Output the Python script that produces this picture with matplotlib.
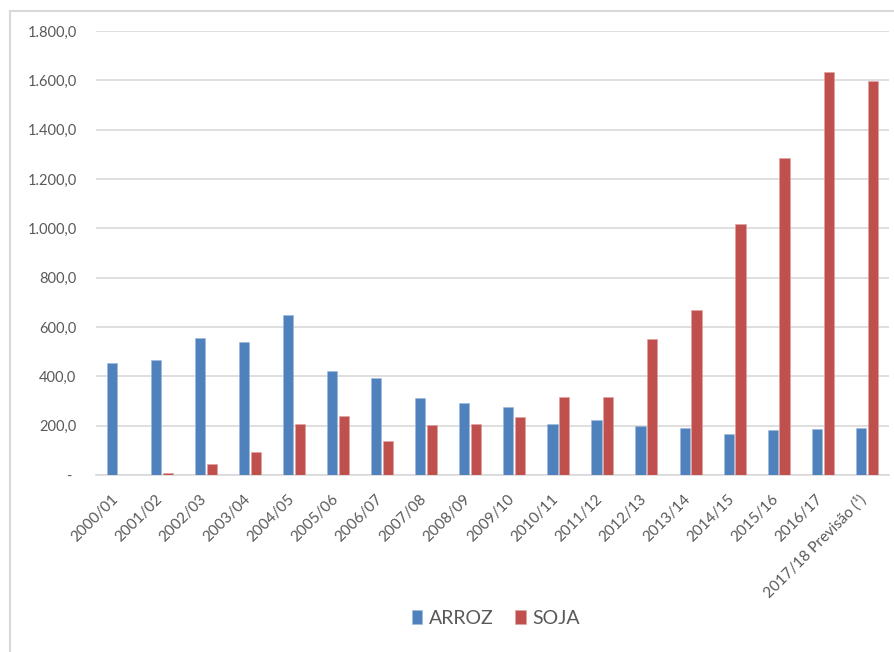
import matplotlib
matplotlib.use("Agg")
import matplotlib.pyplot as plt
import matplotlib.transforms as mtransforms
from matplotlib.patches import Rectangle
from matplotlib.ticker import FuncFormatter, MultipleLocator
import numpy as np

plt.rcParams['font.family'] = ['Lato', 'DejaVu Sans']

safras = ["2000/01", "2001/02", "2002/03", "2003/04", "2004/05", "2005/06",
          "2006/07", "2007/08", "2008/09", "2009/10", "2010/11", "2011/12",
          "2012/13", "2013/14", "2014/15", "2015/16", "2016/17",
          "2017/18 Previsão (¹)"]
arroz = [455, 467, 555, 540, 650, 423, 395, 311, 292, 274, 208, 222,
         197, 189, 168, 182, 186, 189]
soja = [0, 8, 43, 95, 208, 238, 138, 201, 208, 234, 315, 318,
        551, 668, 1016, 1286, 1633, 1596]

BLUE = "#4F81BD"
RED = "#C0504D"
TEXT = "#595959"
GRID = "#D9D9D9"

W, H = 895, 652
fig = plt.figure(figsize=(W / 100, H / 100), dpi=100)
ax = fig.add_axes([96 / W, 1 - 475 / H, (888.7 - 96) / W, (475 - 31) / H])

x = np.arange(len(safras))
bw = 0.23
off = 0.135
ax.bar(x - off, arroz, bw, color=BLUE, edgecolor="#9DB8DA", linewidth=0.4, label="ARROZ", zorder=3)
ax.bar(x + off, soja, bw, color=RED, edgecolor="#E0A09E", linewidth=0.4, label="SOJA", zorder=3)

ax.set_xlim(-0.5, len(safras) - 0.5)
ax.set_ylim(0, 1800)
ax.yaxis.set_major_locator(MultipleLocator(200))


def fmt(v, pos):
    if abs(v) < 1e-9:
        return "- "
    s = f"{v:,.1f}"
    return s.replace(",", "X").replace(".", ",").replace("X", ".")


ax.yaxis.set_major_formatter(FuncFormatter(fmt))
ax.grid(axis="y", color=GRID, linewidth=1.2, zorder=0)
ax.set_axisbelow(True)
for side in ["top", "right", "left"]:
    ax.spines[side].set_visible(False)
ax.spines["bottom"].set_color(GRID)
ax.spines["bottom"].set_linewidth(1.2)

ax.tick_params(axis="y", length=0, pad=14, labelsize=10.5, labelcolor=TEXT)
ax.set_xticks(x)
ax.set_xticklabels(safras, rotation=45, ha="right", va="top")
ax.tick_params(axis="x", length=0, pad=12, labelsize=11, labelcolor=TEXT)
shift = mtransforms.ScaledTranslation(3 / 100, 0, fig.dpi_scale_trans)
for lbl in ax.get_xticklabels():
    lbl.set_transform(lbl.get_transform() + shift)

ax.legend(loc="center", bbox_to_anchor=(496 / W, 1 - 618 / H),
          bbox_transform=fig.transFigure, ncol=2, frameon=False,
          fontsize=14, labelcolor=TEXT, handlelength=0.55, handleheight=0.7,
          handletextpad=0.35, columnspacing=1.1)

fig.add_artist(Rectangle((10.5 / W, -0.1), 1.2, (H - 10.5) / H + 0.1,
                         transform=fig.transFigure, fill=False,
                         edgecolor=GRID, linewidth=1.5))

fig.savefig("out.png", dpi=100)
